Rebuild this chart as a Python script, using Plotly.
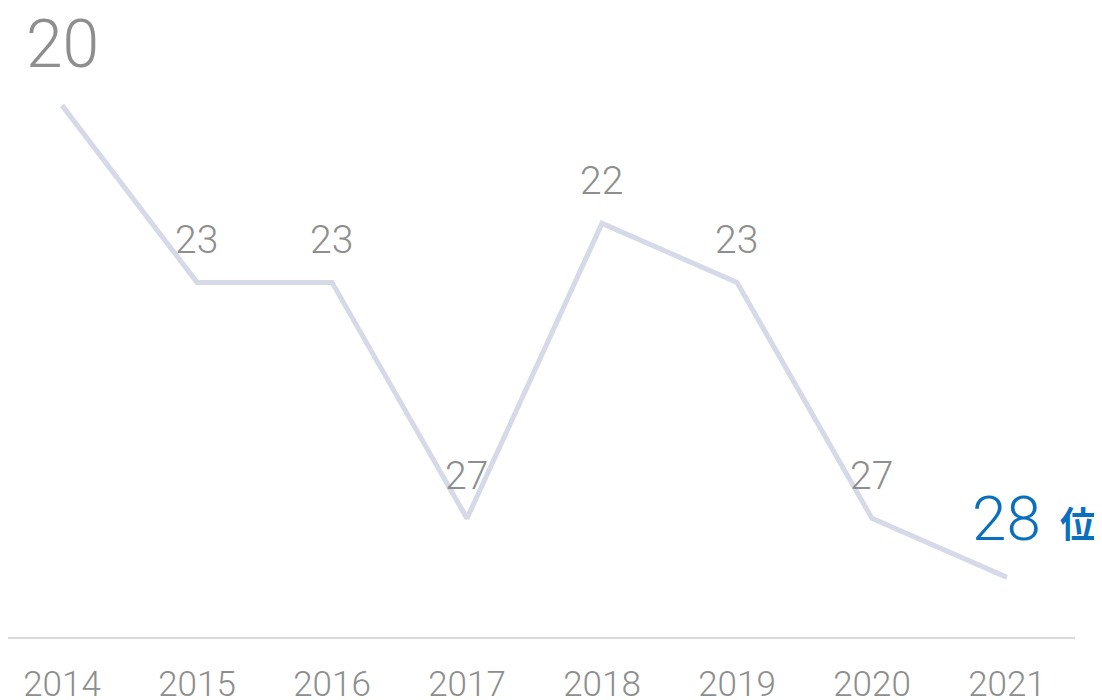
import plotly.graph_objects as go

years = ["2014", "2015", "2016", "2017", "2018", "2019", "2020", "2021"]
ranks = [20, 23, 23, 27, 22, 23, 27, 28]
unit = "位"

GRAY = "#8e8e8e"
BLUE = "#0a6fbd"
LINE = "#d5d9e8"
FONT = "Roboto"

x = list(range(len(years)))

fig = go.Figure()
fig.add_trace(go.Scatter(
    x=x, y=ranks, mode="lines",
    line=dict(color=LINE, width=5),
    hoverinfo="skip", showlegend=False,
))

annotations = []
last = len(ranks) - 1
for i, r in enumerate(ranks):
    if i == 0:
        size, color, shift = 66, GRAY, 61
    elif i == last:
        size, color, shift = 62, BLUE, 59
    else:
        size, color, shift = 39, GRAY, 42
    annotations.append(dict(
        x=i, y=r, text=str(r), showarrow=False, yshift=shift,
        font=dict(family=FONT, size=size, color=color, weight=300),
    ))
annotations.append(dict(
    x=last, y=ranks[last], text=unit, showarrow=False, yshift=55, xshift=71,
    font=dict(family="Noto Sans CJK JP", size=36, color=BLUE, weight="bold"),
))

fig.update_layout(
    width=1094, height=697,
    margin=dict(l=0, r=27, t=0, b=64),
    paper_bgcolor="white", plot_bgcolor="white",
    annotations=annotations,
    xaxis=dict(
        range=[-0.4, 7.504], tickmode="array", tickvals=x, ticktext=years,
        showgrid=False, zeroline=False, showline=True, linecolor="#dadada", linewidth=2,
        ticks="", ticklabelstandoff=15,
        tickfont=dict(family=FONT, size=35, color=GRAY, weight=300),
        fixedrange=True,
    ),
    yaxis=dict(
        range=[29.01, 18.35], visible=False, showgrid=False, zeroline=False,
        fixedrange=True,
    ),
)

fig.write_html("out.html", config={"displayModeBar": False})
